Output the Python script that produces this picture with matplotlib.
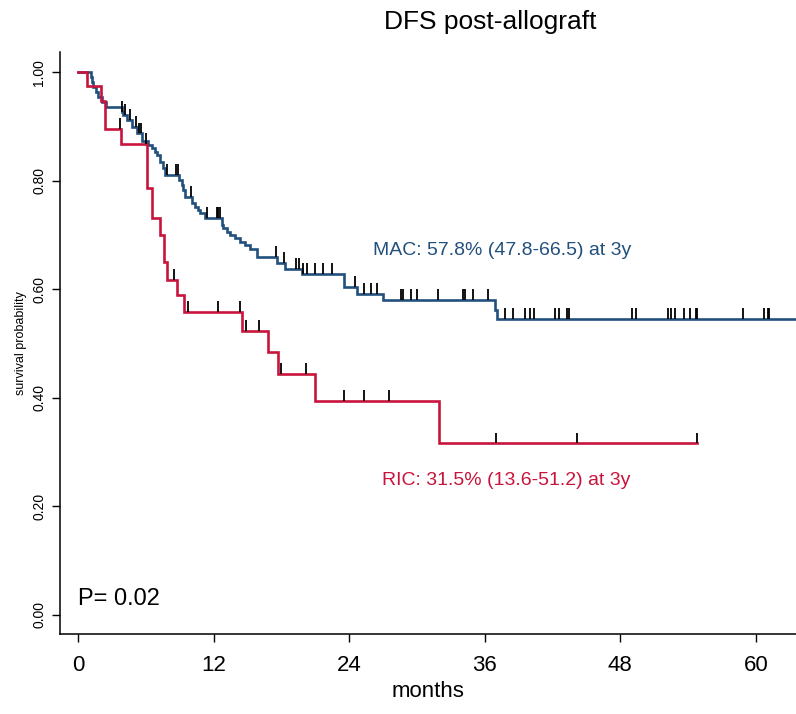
import matplotlib
matplotlib.use("Agg")
import matplotlib.pyplot as plt
import numpy as np

plt.rcParams['font.family'] = ['Liberation Sans', 'DejaVu Sans']

# ---- data ----
mac_times = [0, 1.12, 1.21, 1.36, 1.59, 1.8, 2.09, 2.5, 3.86, 4.0, 4.3, 4.75, 5.19, 5.63,
             6.22, 6.52, 6.81, 7.02, 7.26, 7.55, 7.7, 8.94, 9.17, 9.32, 9.47, 10.06, 10.35,
             10.65, 10.8, 11.24, 12.7, 12.86, 13.16, 13.45, 13.9, 14.3, 14.8, 15.2, 15.8,
             17.6, 18.3, 19.8, 23.5, 24.66, 27.0, 36.9, 37.05]
mac_surv = [1.0, 0.991, 0.982, 0.973, 0.964, 0.955, 0.945, 0.936, 0.927, 0.921, 0.912, 0.899,
            0.887, 0.873, 0.866, 0.86, 0.853, 0.847, 0.835, 0.823, 0.81, 0.801, 0.792, 0.783,
            0.77, 0.758, 0.752, 0.746, 0.74, 0.731, 0.718, 0.712, 0.706, 0.70, 0.694, 0.687,
            0.681, 0.675, 0.66, 0.648, 0.638, 0.629, 0.605, 0.592, 0.58, 0.562, 0.545]
mac_end = 65.0
mac_censor = [3.9, 4.16, 4.6, 5.1, 5.35, 5.6, 7.85, 8.67, 8.88, 9.97, 11.4, 12.27, 12.4, 12.57,
              17.5, 18.2, 19.3, 19.6, 19.95, 20.25, 21.0, 21.7, 22.5, 24.5, 25.3, 25.9, 26.5,
              28.6, 28.8, 29.5, 30.0, 31.9, 34.1, 34.25, 35.0, 36.3, 37.75, 38.5, 39.6, 40.0,
              40.4, 42.2, 42.6, 43.3, 43.5, 49.0, 49.4, 52.2, 52.5, 52.8, 53.6, 54.2, 54.7,
              54.8, 58.9, 60.7, 61.1, 61.2]

ric_times = [0, 0.8, 2.0, 2.4, 3.8, 6.1, 6.58, 7.26, 7.64, 7.9, 8.73, 9.4, 14.5, 16.84,
             17.73, 20.97, 31.98]
ric_surv = [1.0, 0.974, 0.947, 0.895, 0.868, 0.786, 0.731, 0.70, 0.65, 0.617, 0.589, 0.559,
            0.524, 0.485, 0.444, 0.395, 0.316]
ric_end = 54.75
ric_censor = [3.75, 6.05, 8.5, 9.76, 12.4, 14.3, 14.9, 16.0, 18.0, 20.2, 23.5, 25.3, 27.5,
              37.0, 44.2, 54.75]

x_ticks = [0, 12, 24, 36, 48, 60]
y_ticks = [0.0, 0.2, 0.4, 0.6, 0.8, 1.0]

mac_label = "MAC: 57.8% (47.8-66.5) at 3y"
ric_label = "RIC: 31.5% (13.6-51.2) at 3y"
p_label = "P= 0.02"
title = "DFS post-allograft"

MAC_COLOR = "#22507d"
RIC_COLOR = "#c8143c"

W, H = 796, 714
fig = plt.figure(figsize=(W / 100, H / 100), dpi=100)
ax = fig.add_axes([60 / W, (H - 634) / H, 1 - 60 / W, (634 - 52) / H])


def step_level(times, surv, t):
    idx = np.searchsorted(np.asarray(times), t, side='right') - 1
    return np.asarray(surv)[idx]


for times, surv, end, cens, col in [
    (mac_times, mac_surv, mac_end, mac_censor, MAC_COLOR),
    (ric_times, ric_surv, ric_end, ric_censor, RIC_COLOR),
]:
    tt = list(times) + [end]
    ss = list(surv) + [surv[-1]]
    ax.step(tt, ss, where='post', color=col, lw=1.9, zorder=3, solid_joinstyle='miter')
    lev = np.array([step_level(times, surv, c) for c in cens])
    ax.vlines(cens, lev, lev + 0.02, color='black', lw=1.3, zorder=4)

ax.set_xlim(-1.6, 63.55)
ax.set_ylim(-0.035, 1.037)

ax.spines['top'].set_visible(False)
ax.spines['right'].set_visible(False)
for s in ['left', 'bottom']:
    ax.spines[s].set_linewidth(1.1)

ax.set_xticks(x_ticks)
ax.set_xticklabels([str(v) for v in x_ticks], fontsize=16)
ax.set_yticks(y_ticks)
ax.set_yticklabels([f"{v:.2f}" for v in y_ticks], fontsize=10, rotation=90, va='center')
ax.tick_params(axis='both', direction='out', length=6, width=1, colors='black')
ax.tick_params(axis='x', pad=9)
ax.tick_params(axis='y', pad=4)

ax.set_xlabel("months", fontsize=16, labelpad=4)
ax.set_ylabel("survival probability", fontsize=9, labelpad=4)

ax.text(26.1, 0.672, mac_label, color=MAC_COLOR, fontsize=14, va='center', ha='left')
ax.text(26.9, 0.247, ric_label, color=RIC_COLOR, fontsize=14, va='center', ha='left')
ax.text(0.0, 0.03, p_label, color='black', fontsize=17, va='center', ha='left')

fig.text(490 / W, 1 - 22 / H, title, fontsize=19, ha='center', va='center')

fig.savefig("out.png", dpi=100)
